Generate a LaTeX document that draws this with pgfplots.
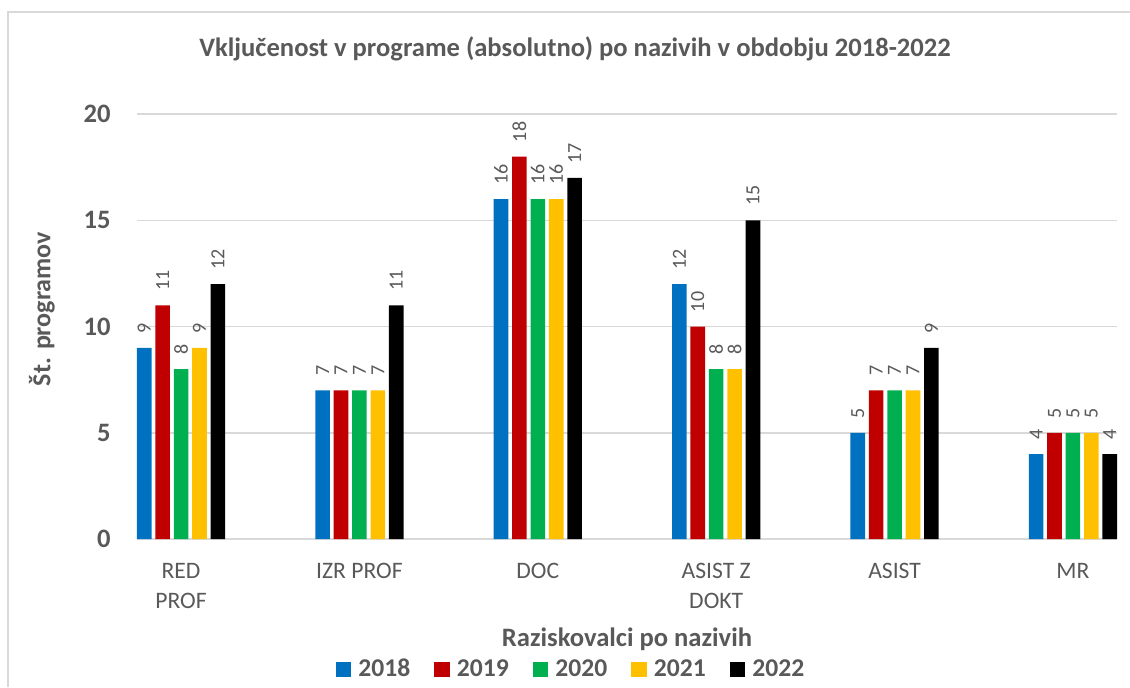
\documentclass[border=0pt]{standalone}
\usepackage{fontspec}
\setmainfont{Carlito}
\usepackage{pgfplots}
\pgfplotsset{compat=1.18}
\definecolor{c18}{RGB}{0,112,192}
\definecolor{c19}{RGB}{192,0,0}
\definecolor{c20}{RGB}{0,176,80}
\definecolor{c21}{RGB}{255,192,0}
\definecolor{c22}{RGB}{0,0,0}
\definecolor{txt}{RGB}{89,89,89}
\definecolor{gridc}{RGB}{217,217,217}
\begin{document}
\begin{tikzpicture}
\path[use as bounding box] (0pt,0pt) rectangle (565pt,-343.5pt);
\draw[gridc, line width=1.2pt] (4pt,-343.5pt) -- (4pt,-6pt) -- (565pt,-6pt);
\node[font=\bfseries\fontsize{13.3}{16}\selectfont, text=txt] at (287.5pt,-24.5pt) {Vključenost v programe (absolutno) po nazivih v obdobju 2018-2022};
\node[font=\bfseries\fontsize{13}{16}\selectfont, text=txt, rotate=90] at (21pt,-154.5pt) {Št. programov};
\node[font=\bfseries\fontsize{13.3}{16}\selectfont, text=txt] at (313.5pt,-319.5pt) {Raziskovalci po nazivih};
\begin{axis}[
  at={(68.5pt,-269.5pt)}, anchor=south west,
  scale only axis, width=490pt, height=212.5pt,
  ybar=1.9pt, bar width=7.3pt,
  xmin=-0.247, xmax=5.247, ymin=0, ymax=20,
  xtick={0,1,2,3,4,5},
  xticklabels={{RED\\PROF},{IZR PROF},{DOC},{ASIST Z\\DOKT},{ASIST},{MR}},
  ytick={0,5,10,15,20},
  axis line style={draw=none},
  major tick length=0pt,
  ymajorgrids, grid style={gridc, line width=0.75pt},
  /pgf/number format/assume math mode=true,
  yticklabel style={font=\bfseries\fontsize{13.3}{15}\selectfont, text=txt, inner sep=0pt, xshift=-13pt},
  xticklabel style={font=\fontsize{11.8}{15}\selectfont, text=txt, align=center, yshift=-8.5pt},
  nodes near coords,
  every node near coord/.append style={rotate=90, anchor=west, font=\fontsize{10}{12}\selectfont, text=txt, inner xsep=7pt},
  legend style={at={(0.444,-0.307)}, anchor=center, legend columns=5, draw=none, fill=none,
    font=\bfseries\fontsize{12.8}{15}\selectfont, text=txt,
    /tikz/every odd column/.append style={column sep=1.5pt},
    /tikz/every even column/.append style={column sep=10pt}},
  legend image code/.code={\fill[#1] (0pt,-3.9pt) rectangle (7.8pt,3.9pt);},
]
\addplot[fill=c18, draw=none] coordinates {(0,9) (1,7) (2,16) (3,12) (4,5) (5,4)};
\addplot[fill=c19, draw=none] coordinates {(0,11) (1,7) (2,18) (3,10) (4,7) (5,5)};
\addplot[fill=c20, draw=none] coordinates {(0,8) (1,7) (2,16) (3,8) (4,7) (5,5)};
\addplot[fill=c21, draw=none] coordinates {(0,9) (1,7) (2,16) (3,8) (4,7) (5,5)};
\addplot[fill=c22, draw=none] coordinates {(0,12) (1,11) (2,17) (3,15) (4,9) (5,4)};
\legend{2018,2019,2020,2021,2022}
\end{axis}
\end{tikzpicture}
\end{document}
